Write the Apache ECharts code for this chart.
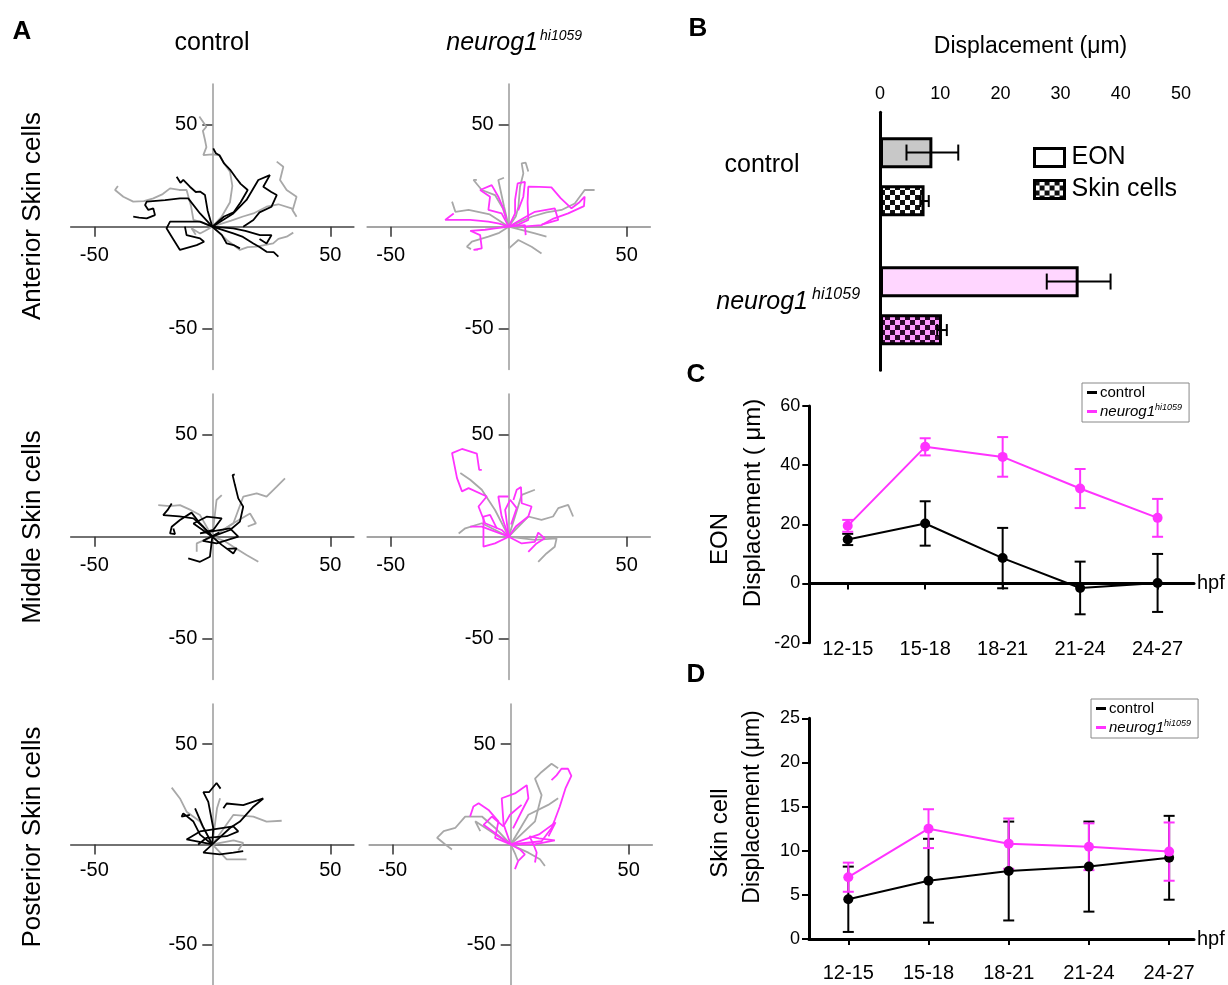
<!DOCTYPE html>
<html lang="en">
<head>
<meta charset="UTF-8">
<title>EON and skin cell displacement</title>
<script src="https://cdn.jsdelivr.net/npm/echarts@6/dist/echarts.min.js"></script>
<style>
  html, body { margin: 0; padding: 0; background: #fff; }
  #main { width: 1228px; height: 985px; }
</style>
</head>
<body>
<div id="main"></div>
<script>
const FONT = '"Liberation Sans", Arial, Helvetica, sans-serif';
const GRAY = '#a8a8a8', BLACK = '#000', MAGENTA = '#ff33ff';

// ---- panel A: cell tracks (x, y in um) ----
const antCtrlGray = [
  [[0,0],[4,5],[7.5,12],[8.5,20],[7.5,27],[5,31],[3.2,35],[0,35.5],[-3.8,35.1],[-2.5,39],[-3.1,42.5],[-4,47],[-2.5,49],[-5.5,54]],
  [[0,0],[8,3],[13,5],[17.4,6.5],[23,9.8],[28,11],[33.6,9],[35.7,4.9],[34,8],[35.7,14.7],[31.5,18],[28.7,22.9],[30.1,29.4],[27.3,31.9]],
  [[0,0],[-4,2],[-8,3.3],[-9,10],[-10.9,18],[-14,18],[-17.9,18.8],[-21,16],[-25,13.9],[-29,12.5],[-33.5,12.3],[-37.7,14.7],[-41.2,18],[-40,20]],
  [[0,0],[3,-3],[6.1,-6.5],[9,-9],[11.7,-11.4],[15,-10],[18.8,-9.8],[22,-9],[25.8,-8.2],[28,-6],[31.5,-4.9],[34.3,-2.9]],
  [[0,0],[-3,-2],[-5.2,-3.3],[-8.8,-0.8],[-7,-4]]
];
const antCtrlBlack = [
  [[0,0],[5,5],[9,7],[12,12],[15,18],[12,21],[10,24],[7.5,28],[5,31],[3,35],[1.5,36],[0.4,38.4]],
  [[0,0],[-5.2,6.5],[-10.2,13.9],[-13.7,13.9],[-20,13],[-27.8,12.3],[-28.5,10.6],[-27.1,8.2],[-25,9],[-24.3,5.7],[-27.8,4.1],[-31,4.5],[-33.5,4.9]],
  [[0,0],[-2,8],[-3.1,15.5],[-5.2,17.2],[-7,17],[-9.5,19.6],[-12.3,22.9],[-13.5,21.5],[-15.1,24.5]],
  [[0,0],[-5.2,2.5],[-12,2.5],[-17.9,2.5],[-19.4,-0.8],[-17.2,-4.9],[-13.7,-11.4],[-6.6,-9],[-3.5,-7.4],[-5.2,-5.7],[-10.9,-4.1],[-11.6,0]],
  [[0,0],[8.9,-3.3],[13,-5],[17.4,-8.2],[20,-10],[23,-12.3],[26,-12.5],[28,-14.7]],
  [[0,0],[8.9,-0.8],[14,-2],[20.2,-4.1],[25.1,-4.1],[23,-8.2],[20,-6]],
  [[0,0],[4,-4],[6.1,-8.2],[9,-9],[11.7,-10.6]],
  [[0,0],[8.9,6.5],[14.5,13.1],[17,18],[19.5,22.9],[24.4,25.3],[21.6,19.6],[25,17],[27.3,15.5],[25.1,9.8],[20,7],[17.4,3.3],[13.1,0]]
];
const antNeuroGray = [
  [[0,0],[3,5],[4.1,9.8],[4.8,19.6],[6.2,26.1],[5.5,31],[7.2,31.4],[8.3,27]],
  [[0,0],[10,5],[16,7],[22.4,8.2],[28,11.4],[32.2,18],[36.4,18]],
  [[0,0],[-2.5,9],[-5.8,15.5],[-11.4,18],[-14.9,22.9],[-13.5,23]],
  [[0,0],[-8,6],[-17,8.2],[-22.6,7.3],[-24,12.3]],
  [[0,0],[-4,-3],[-8.6,-4.9],[-15.6,-7.3],[-17.7,-9.8],[-16,-11]],
  [[0,0],[0.1,-10.6],[4.1,-6.5],[9.7,-9.8],[13.9,-13.1]],
  [[0,0],[7,-2],[11.1,-3.3],[16,-4.9]],
  [[0,0],[-2,10],[-4.4,22.9],[-2,24]]
];
const antNeuroMag = [
  [[0,0],[4,1],[8.3,3.3],[8,12],[8.3,19.6],[13,19.5],[18.1,19.3],[22,14],[26.6,9],[30,12],[32.2,14.7],[31.9,10.1],[25.2,6.5],[19,4],[13.9,0.8],[6,0]],
  [[0,0],[-4,1.5],[-8.6,2.5],[-16.3,3.3],[-22,3.3],[-26.9,3.3],[-25,5],[-23.3,6.5]],
  [[0,0],[-5.8,-0.8],[-10,-1.5],[-16.3,-2],[-12.1,-4.1],[-11.4,-10.6],[-14.9,-11.4],[-13,-11.2]],
  [[0,0],[-3,6.5],[-8.6,8.2],[-7.9,14.7],[-12.1,18],[-7.2,20.4],[-4.4,14.7],[-2.3,9],[-1,4]],
  [[0,0],[2.7,6.5],[2.7,13.1],[3.8,21.2],[6.9,22],[6.2,14.7],[4,8]],
  [[0,0],[6.9,0.8],[7.2,-4.1]],
  [[0,0],[6,4],[11.1,7.3],[19.5,9],[21,3.3],[14,1]]
];
const midCtrlGray = [
  [[0,0],[8.9,6.5],[13.1,19.6],[18.8,21.2],[23,19.6],[27.3,24.5],[30.8,28.6]],
  [[0,0],[-5.2,10.6],[-9,13],[-13.7,15.5],[-18,15],[-22.9,15.5]],
  [[0,0],[8,6],[16,11.4],[18.5,6.5],[15,5]],
  [[0,0],[5,-2],[8.9,-4.9],[14.5,-9],[19.5,-12.3]],
  [[0,0],[1.8,18],[4,20.4]],
  [[0,0],[-6.6,-3.3],[-6.6,-7.4]]
];
const midCtrlBlack = [
  [[0,0],[7.5,3.3],[11.7,7.4],[13.1,14.7],[11,18.8],[9.6,25.3],[8.6,30.2],[9.5,30.5]],
  [[0,0],[-5.2,6.5],[-8.8,11.8],[-13.7,8.2],[-17.2,4.9],[-17.9,1.6],[-15.8,1.3],[-16.5,4]],
  [[0,0],[-4,5],[-8,9],[-14,10],[-20.8,10.6],[-19,13],[-17.2,16.3]],
  [[0,0],[4,-4],[8.9,-8.2],[10.3,-5.7],[6,-6]],
  [[0,0],[-1,-9.8],[-5.2,-12.3],[-10.2,-10.6]],
  [[0,0],[-8,6.5],[-2.4,9.8],[4,9],[0.4,3.3],[-5.2,1.6],[7.5,4.1],[11,0],[1.8,-3.3],[-4,-2],[3,2]]
];
const midNeuroGray = [
  [[0,0],[-5.8,13.1],[-11.4,23],[-16.3,27.9],[-20.5,31.2]],
  [[0,0],[8.3,9.9],[13.9,8.2],[18.8,9.9],[21,14],[25.2,15.6],[27.3,9.9]],
  [[0,0],[11.1,-1.6],[20.3,-0.8],[19.5,-4.9],[16,-8.2],[12.5,-12.3]],
  [[0,0],[-11.4,6.6],[-18.4,4.1],[-21.2,1.6]],
  [[0,0],[5.5,20.5],[11.1,23]]
];
const midNeuroMag = [
  [[0,0],[-3,3.3],[-10,6.6],[-12.8,14.8],[-9.3,19.7],[-17,23.8],[-19.8,22.2],[-21.9,28.7],[-24,41],[-19.8,43],[-13.5,40.7],[-12.5,32.8],[-11.4,32.8]],
  [[0,0],[3,5],[8.3,9.9],[9.7,14.8],[5.5,16.4],[5.2,24.3],[3.4,23],[2,18]],
  [[0,0],[5.5,-3.3],[11.1,-2.5],[12.5,2],[15.3,-0.8],[11.8,-3.3],[8.3,-7.4]],
  [[0,0],[-5.8,-3.3],[-10.7,-4.9],[-10.7,0],[-10.7,9.9],[-7.9,10.7],[-5,4]],
  [[0,0],[-11.4,4.9],[-16.3,4.9]],
  [[0,0],[-1.5,13.1],[0.6,18.1],[3.4,14],[1,6]],
  [[0,0],[-3,10],[-4.4,19.7],[-0.1,19.7]]
];
const postCtrlGray = [
  [[0,0],[-5.2,11.4],[-10.9,16.3],[-13.7,22.9],[-17.2,28.3]],
  [[0,0],[8.9,14.7],[17.4,13.9],[23,11.4],[29.4,11.8]],
  [[0,0],[6.1,-7.4],[14.5,-7.4]],
  [[0,0],[2,18],[3.3,23]],
  [[0,0],[9,2],[13.1,0.8],[11,-3]]
];
const postCtrlBlack = [
  [[0,0],[0.4,8.2],[-1.7,21.2],[-3.8,26.1],[-1.3,26.1],[1.8,30.6],[3.5,27.8]],
  [[0,0],[7.5,8.2],[11.7,11.4],[17.4,18.8],[21.6,22.9],[13.1,19.6],[6.1,20.4],[4.7,18]],
  [[0,0],[-5.2,4.9],[-8,11.4],[-12.3,15.5],[-13,13.9],[-9.5,14.7]],
  [[0,0],[-3.8,-4.1],[3.2,-4.9],[8.9,-4.1],[13.1,-3.3]],
  [[0,0],[-10.9,2.5],[-5.2,6.5],[8.9,9],[11,6.5],[6.1,4.1],[-2.4,3.3],[-6,0]],
  [[0,0],[-4,9],[-7.3,18]]
];
const postNeuroGray = [
  [[0,0],[-6.6,8.2],[-12.2,13.9],[-19.3,13.9],[-23.5,8.2],[-28.4,6.6],[-31.2,3.3],[-27.7,0],[-24.9,-2.5]],
  [[0,0],[10.3,11.5],[13.1,24.6],[10.3,32.8],[13.1,36.1],[17.3,40.2],[20.1,38]],
  [[0,0],[7.5,14.8],[15.9,19.7],[20.1,23]],
  [[0,0],[7.5,-4.1],[12.4,-7.4],[14.5,-10.7]],
  [[0,0],[-15,11.5],[-12.9,6.6]],
  [[0,0],[2,-5],[3,-8]]
];
const postNeuroMag = [
  [[0,0],[13.1,1.6],[17.3,8.2],[18.7,12.3],[20.8,18.9],[23.2,27.9],[25.7,34.1],[24.3,37.7],[21.5,37.7],[19.4,34.4],[17.3,32]],
  [[0,0],[-6.6,3.3],[-5.2,11.5],[-9.4,17.2],[-13.6,20.5],[-15.8,18.9],[-17.2,13.9]],
  [[0,0],[-3,10],[-3.8,23],[1.8,25.4],[6.8,29.5],[7.5,23],[4.6,16.4],[1,8]],
  [[0,0],[3.9,-2.5],[6,-4.9],[3.2,-8.2],[1.8,-12.3]],
  [[0,0],[10,0],[18.7,2],[12,3],[8,4],[10,-1],[11,-4],[10.3,-9]],
  [[0,0],[-11.5,9.8],[-8,13.9],[-3.1,9],[-0.3,14.8],[4.6,19.7]],
  [[0,0],[12,5],[19,11],[16,4]]
];
const trackTicks = [-50, 50];

// ---- panel B ----
const groups = ['control', 'neurog1'];
const eonMean = [8.7, 33.0];
const eonErr = [4.3, 5.3];
const skinMean = [7.4, 10.3];
const skinErr = [0.7, 0.8];

// ---- panels C and D ----
const windows = ['12-15', '15-18', '18-21', '21-24', '24-27'];
const eonCtrl = [14.9, 20.3, 8.6, -1.5, 0.2];
const eonCtrlErr = [1.9, 7.5, 10.2, 8.9, 9.8];
const eonNeuro = [19.5, 46.2, 42.8, 32.1, 22.2];
const eonNeuroErr = [2.0, 2.9, 6.7, 6.6, 6.4];
const skinCtrl = [4.5, 6.6, 7.7, 8.2, 9.2];
const skinCtrlErr = [3.7, 4.75, 5.6, 5.1, 4.75];
const skinNeuro = [7.0, 12.5, 10.8, 10.45, 9.9];
const skinNeuroErr = [1.65, 2.2, 2.85, 2.65, 3.3];

// checkered fill for the skin cell bars
function checker(c1, c2) {
  const cv = document.createElement('canvas');
  cv.width = cv.height = 10;
  const ctx = cv.getContext('2d');
  ctx.fillStyle = c1; ctx.fillRect(0, 0, 10, 10);
  ctx.fillStyle = c2; ctx.fillRect(0, 0, 5, 5); ctx.fillRect(5, 5, 5, 5);
  return { image: cv, repeat: 'repeat' };
}

const grid = [], xAxis = [], yAxis = [], series = [];

const panelsA = [
  { gray: antCtrlGray, col: antCtrlBlack, color: BLACK, left: 70.7, top: 83.9, hLine: '#444' },
  { gray: antNeuroGray, col: antNeuroMag, color: MAGENTA, left: 367.1, top: 83.9, hLine: '#888' },
  { gray: midCtrlGray, col: midCtrlBlack, color: BLACK, left: 70.7, top: 393.9, hLine: '#444' },
  { gray: midNeuroGray, col: midNeuroMag, color: MAGENTA, left: 367.1, top: 393.9, hLine: '#888' },
  { gray: postCtrlGray, col: postCtrlBlack, color: BLACK, left: 70.7, top: 703.9, hLine: '#444' },
  { gray: postNeuroGray, col: postNeuroMag, color: MAGENTA, left: 369.1, top: 703.9, hLine: '#888' }
];

function track(data, color, idx) {
  return {
    type: 'line', xAxisIndex: idx, yAxisIndex: idx, data: data,
    symbol: 'none', silent: true,
    lineStyle: { color: color, width: 1.8 }, itemStyle: { color: color }
  };
}

// labels sit at the grid edge, so pull them back to the zero lines
panelsA.forEach(function (p, i) {
  grid.push({ left: p.left, top: p.top, width: 283.2, height: 285.6 });
  xAxis.push({
    type: 'value', gridIndex: i, min: -60, max: 60, splitLine: { show: false },
    axisLine: { onZero: true, lineStyle: { color: p.hLine, width: 1.5 } },
    axisTick: { customValues: trackTicks, length: 10, lineStyle: { color: '#333', width: 1.5 } },
    axisLabel: { customValues: trackTicks, margin: -114.5, verticalAlign: 'middle', fontSize: 20, color: '#000', fontFamily: FONT }
  });
  yAxis.push({
    type: 'value', gridIndex: i, min: -70, max: 70, splitLine: { show: false },
    axisLine: { onZero: true, lineStyle: { color: '#9a9a9a', width: 1.5 } },
    axisTick: { customValues: trackTicks, length: 10, lineStyle: { color: '#333', width: 1.5 } },
    axisLabel: { customValues: trackTicks, margin: -126.6, align: 'right', fontSize: 20, color: '#000', fontFamily: FONT }
  });
  p.gray.forEach(function (t) { series.push(track(t, GRAY, i)); });
  p.col.forEach(function (t) { series.push(track(t, p.color, i)); });
});

// ---- B: horizontal bars ----
grid.push({ left: 880, top: 112.3, width: 301, height: 258 });
xAxis.push({
  type: 'value', gridIndex: 6, position: 'top', min: 0, max: 50, interval: 10,
  name: 'Displacement (μm)', nameLocation: 'middle', nameGap: 54,
  nameTextStyle: { fontSize: 23, color: '#000', fontFamily: FONT },
  splitLine: { show: false },
  axisLine: { lineStyle: { color: '#000', width: 3 } },
  axisTick: { length: 5, lineStyle: { color: '#000', width: 2 } },
  axisLabel: { fontSize: 18, margin: 9, color: '#000', fontFamily: FONT }
});
yAxis.push({
  type: 'category', gridIndex: 6, data: groups, inverse: true,
  axisLine: { lineStyle: { color: '#000', width: 3 } },
  axisTick: { alignWithLabel: true, length: 6, lineStyle: { color: '#000', width: 3 } },
  axisLabel: { show: false }
});
const eonFill = ['#c8c8c8', '#ffd6ff'];
const skinFill = [checker('#fff', '#111'), checker('#ff99ff', '#2a0a2a')];
series.push({
  type: 'bar', name: 'EON', xAxisIndex: 6, yAxisIndex: 6, barWidth: 31, barGap: '55%',
  itemStyle: { borderColor: '#000', borderWidth: 3 },
  data: eonMean.map(function (v, i) { return { value: v, itemStyle: { color: eonFill[i] } }; })
});
series.push({
  type: 'bar', name: 'Skin cells', xAxisIndex: 6, yAxisIndex: 6, barWidth: 31,
  itemStyle: { borderColor: '#000', borderWidth: 3 },
  data: skinMean.map(function (v, i) { return { value: v, itemStyle: { color: skinFill[i] } }; })
});

function hErr(offset, half) {
  return function (params, api) {
    const a = api.coord([api.value(0), api.value(2)]);
    const b = api.coord([api.value(1), api.value(2)]);
    const y = a[1] + offset;
    const st = { stroke: '#000', lineWidth: 2 };
    return { type: 'group', children: [
      { type: 'line', shape: { x1: a[0], y1: y, x2: b[0], y2: y }, style: st },
      { type: 'line', shape: { x1: a[0], y1: y - half, x2: a[0], y2: y + half }, style: st },
      { type: 'line', shape: { x1: b[0], y1: y - half, x2: b[0], y2: y + half }, style: st }
    ] };
  };
}
series.push({
  type: 'custom', xAxisIndex: 6, yAxisIndex: 6, z: 5, silent: true,
  encode: { x: [0, 1], y: 2 },
  data: eonMean.map(function (v, i) { return [v - eonErr[i], v + eonErr[i], i]; }),
  renderItem: hErr(-24.25, 8)
});
series.push({
  type: 'custom', xAxisIndex: 6, yAxisIndex: 6, z: 5, silent: true,
  encode: { x: [0, 1], y: 2 },
  data: skinMean.map(function (v, i) { return [v - skinErr[i], v + skinErr[i], i]; }),
  renderItem: hErr(24.25, 6)
});

// ---- C and D: time courses ----
function vErr(params, api) {
  const x = api.value(0);
  const top = api.coord([x, api.value(2)]);
  const bot = api.coord([x, api.value(1)]);
  const st = { stroke: api.visual('color'), lineWidth: 2 };
  const w = 5.5;
  return { type: 'group', children: [
    { type: 'line', shape: { x1: top[0], y1: top[1], x2: bot[0], y2: bot[1] }, style: st },
    { type: 'line', shape: { x1: top[0] - w, y1: top[1], x2: top[0] + w, y2: top[1] }, style: st },
    { type: 'line', shape: { x1: bot[0] - w, y1: bot[1], x2: bot[0] + w, y2: bot[1] }, style: st }
  ] };
}

function timeAxes(gi, xMin, xMax, labelMargin) {
  xAxis.push({
    type: 'value', gridIndex: gi, min: xMin, max: xMax, splitLine: { show: false },
    name: 'hpf', nameLocation: 'end', nameGap: 3,
    nameTextStyle: { fontSize: 20, color: '#000', fontFamily: FONT, align: 'left', verticalAlign: 'middle' },
    axisLine: { onZero: true, lineStyle: { color: '#000', width: 3 } },
    axisTick: { customValues: [0, 1, 2, 3, 4], length: 6, lineStyle: { color: '#000', width: 2 } },
    axisLabel: {
      customValues: [0, 1, 2, 3, 4], margin: labelMargin, verticalAlign: 'middle',
      fontSize: 20, color: '#000', fontFamily: FONT,
      formatter: function (v) { return windows[Math.round(v)]; }
    }
  });
}
function valueAxis(gi, min, max, step) {
  yAxis.push({
    type: 'value', gridIndex: gi, min: min, max: max, interval: step, splitLine: { show: false },
    axisLine: { show: true, onZero: false, lineStyle: { color: '#000', width: 3 } },
    axisTick: { show: true, length: 7, lineStyle: { color: '#000', width: 2 } },
    axisLabel: { fontSize: 18, margin: 9, color: '#000', fontFamily: FONT }
  });
}
function timeSeries(gi, name, means, errs, color) {
  series.push({
    type: 'custom', xAxisIndex: gi, yAxisIndex: gi, silent: true,
    itemStyle: { color: color }, encode: { x: 0, y: [1, 2] },
    data: means.map(function (v, i) { return [i, v - errs[i], v + errs[i]]; }),
    renderItem: vErr
  });
  series.push({
    type: 'line', name: name, xAxisIndex: gi, yAxisIndex: gi,
    data: means.map(function (v, i) { return [i, v]; }),
    symbol: 'circle', symbolSize: 10,
    lineStyle: { color: color, width: 2 }, itemStyle: { color: color }
  });
}

grid.push({ left: 809.3, top: 406, width: 384.7, height: 236.7 });
timeAxes(7, -0.496, 4.47, 7);
valueAxis(7, -20, 60, 20);
timeSeries(7, 'control', eonCtrl, eonCtrlErr, BLACK);
timeSeries(7, 'neurog1', eonNeuro, eonNeuroErr, MAGENTA);

grid.push({ left: 809, top: 718.3, width: 385, height: 220.7 });
timeAxes(8, -0.49, 4.31, 34);
valueAxis(8, 0, 25, 5);
timeSeries(8, 'control', skinCtrl, skinCtrlErr, BLACK);
timeSeries(8, 'neurog1', skinNeuro, skinNeuroErr, MAGENTA);

function lineLegend(left, top) {
  return {
    data: ['control', 'neurog1'], orient: 'vertical', left: left, top: top,
    icon: 'rect', itemWidth: 10, itemHeight: 3, itemGap: 2, selectedMode: false,
    borderColor: '#888', borderWidth: 1, padding: [1, 7, 2, 5],
    formatter: function (n) { return n === 'neurog1' ? '{it|neurog1}{sup|hi1059}' : n; },
    textStyle: {
      fontSize: 15, lineHeight: 17, color: '#000', fontFamily: FONT, padding: [0, 0, 0, -2],
      rich: {
        it: { fontSize: 15, fontStyle: 'italic', color: '#000', fontFamily: FONT, lineHeight: 17 },
        sup: { fontSize: 9, fontStyle: 'italic', color: '#000', fontFamily: FONT, verticalAlign: 'top', lineHeight: 17 }
      }
    }
  };
}

const legend = [
  {
    data: [
      { name: 'EON', itemStyle: { color: '#fff', borderColor: '#000', borderWidth: 3 } },
      { name: 'Skin cells', itemStyle: { color: checker('#fff', '#111'), borderColor: '#000', borderWidth: 3 } }
    ],
    orient: 'vertical', left: 1033, top: 145, padding: 0, icon: 'rect',
    itemWidth: 30, itemHeight: 18, itemGap: 7, selectedMode: false,
    textStyle: { fontSize: 25, lineHeight: 25, color: '#000', fontFamily: FONT, padding: [0, 0, 0, 2] }
  },
  lineLegend(1082, 383),
  lineLegend(1091, 699)
];

function txt(x, y, text, size, extra) {
  const st = Object.assign({ text: text, fontSize: size, fontFamily: FONT, fill: '#000', align: 'center', verticalAlign: 'middle' }, extra || {});
  return { type: 'text', x: x, y: y, style: st, silent: true };
}
function vtxt(x, y, text, size) {
  const t = txt(x, y, text, size);
  t.rotation = Math.PI / 2;
  return t;
}

const graphic = [
  txt(22, 32, 'A', 26, { fontWeight: 'bold' }),
  txt(698, 29, 'B', 26, { fontWeight: 'bold' }),
  txt(696, 375, 'C', 26, { fontWeight: 'bold' }),
  txt(696, 675, 'D', 26, { fontWeight: 'bold' }),
  txt(212, 43, 'control', 25),
  txt(538, 43, 'neurog1', 25, { fontStyle: 'italic', align: 'right' }),
  txt(540, 36, 'hi1059', 14, { fontStyle: 'italic', align: 'left' }),
  vtxt(33, 216, 'Anterior Skin cells', 26),
  vtxt(33, 527, 'Middle Skin cells', 26),
  vtxt(33, 837, 'Posterior Skin cells', 26),
  txt(762, 165, 'control', 25),
  txt(808, 302, 'neurog1', 25, { fontStyle: 'italic', align: 'right' }),
  txt(812, 295, 'hi1059', 16, { fontStyle: 'italic', align: 'left' }),
  vtxt(720, 539, 'EON', 24),
  vtxt(753, 503, 'Displacement ( μm)', 24),
  vtxt(720, 833, 'Skin cell', 24),
  vtxt(753, 807, 'Displacement (μm)', 23)
];

const chart = echarts.init(document.getElementById('main'));
chart.setOption({
  animation: false,
  backgroundColor: '#fff',
  textStyle: { fontFamily: FONT },
  grid: grid,
  xAxis: xAxis,
  yAxis: yAxis,
  legend: legend,
  graphic: graphic,
  series: series
});
</script>
</body>
</html>
